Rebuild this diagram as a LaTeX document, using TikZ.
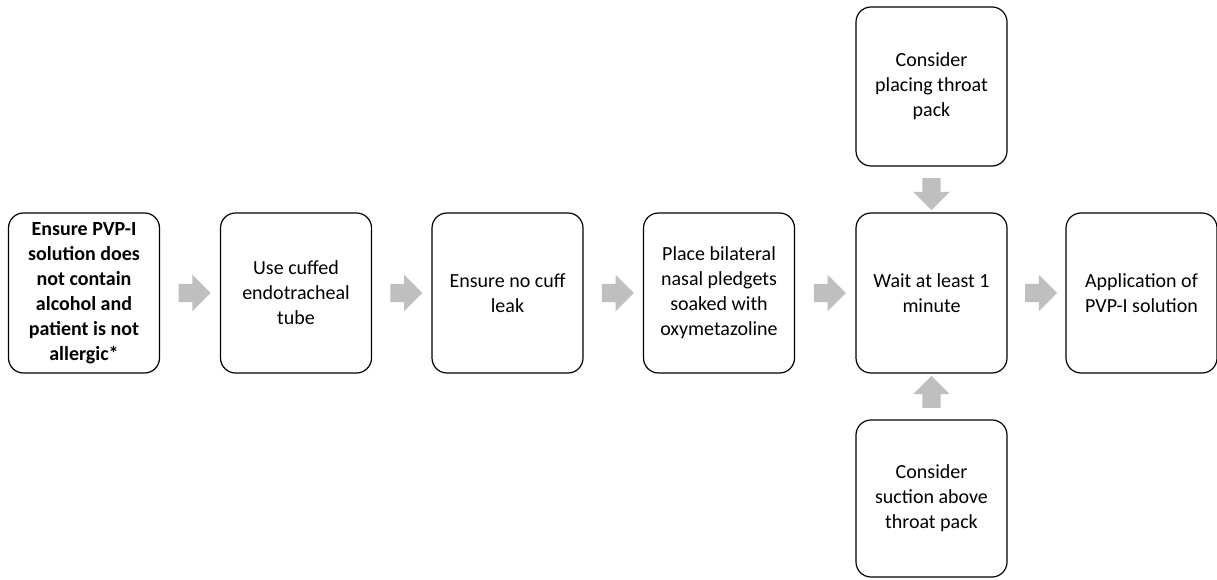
\documentclass[tikz,border=0pt]{standalone}
\usepackage{fontspec}
\setmainfont{Carlito}
\usetikzlibrary{shapes.arrows,calc}
\definecolor{arrowgray}{HTML}{BFBFBF}
\begin{document}
\begin{tikzpicture}
  [x=1pt,y=1pt,
   stepbox/.style={draw=black,line width=1.2pt,rounded corners=15pt,
     minimum width=151pt,minimum height=160pt,text width=126pt,align=flush center,
     font=\fontsize{20}{25}\selectfont},
   blockarrow/.style={single arrow,fill=arrowgray,draw=none,inner sep=9pt,
     minimum width=36pt,minimum height=32pt,single arrow head extend=9pt}]
  \useasboundingbox (0,0) rectangle (1217,579);

  \node[stepbox,font=\fontsize{20}{25}\selectfont\bfseries] (b1) at (84,286)
    {Ensure PVP-I solution does not contain alcohol and patient is not allergic*};
  \node[stepbox] (b2) at (296,286) {Use cuffed endotracheal tube};
  \node[stepbox] (b3) at (507.5,286) {Ensure no cuff leak};
  \node[stepbox] (b4) at (719,286) {Place bilateral nasal pledgets soaked with oxymetazoline};
  \node[stepbox] (b5) at (931.5,286) {Wait at least 1 minute};
  \node[stepbox] (b6) at (1141.5,286) {Application of PVP-I solution};
  \node[stepbox,minimum height=159pt] (top) at (931.5,492.5) {Consider placing throat pack};
  \node[stepbox,minimum height=157pt] (bot) at (931.5,80.5) {Consider suction above throat pack};

  \foreach \from/\to in {b1/b2,b2/b3,b3/b4,b4/b5,b5/b6}
    \node[blockarrow] at ($(\from.east)!0.5!(\to.west)$) {};

  % side steps into the waiting box
  \node[blockarrow,shape border rotate=270] at ($(top.south)!0.5!(b5.north)$) {};
  \node[blockarrow,shape border rotate=90] at ($(bot.north)!0.5!(b5.south)$) {};

\end{tikzpicture}
\end{document}
